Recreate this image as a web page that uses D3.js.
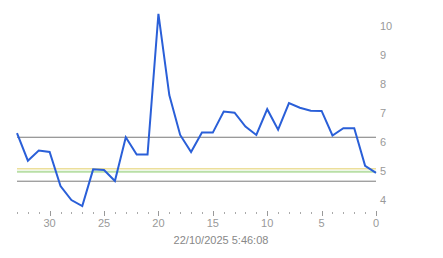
<!DOCTYPE html>
<html><head><meta charset="utf-8">
<script src="https://cdn.jsdelivr.net/npm/d3@7"></script>
<style>body{margin:0;background:#fff}svg{display:block}text{font-family:"Liberation Sans",Arial,sans-serif}</style>
</head><body>
<script>
const xs = [33,32,31,30,29,28,27,26,25,24,23,22,21,20,19,18,17,16,15,14,13,12,11,10,9,8,7,6,5,4,3,2,1,0];
const values = [6.31,5.36,5.71,5.66,4.48,4.0,3.79,5.06,5.04,4.66,6.17,5.57,5.57,10.44,7.63,6.25,5.66,6.33,6.33,7.06,7.02,6.54,6.25,7.14,6.43,7.35,7.19,7.09,7.08,6.23,6.48,6.48,5.18,4.94];
const refLines = [
  {v:6.17, c:"#7a7a7a", w:1},
  {v:5.08, c:"#ecdf9a", w:1.5},
  {v:4.98, c:"#b9dfa6", w:2},
  {v:4.65, c:"#7a7a7a", w:1}
];
const yTicks = [4,5,6,7,8,9,10];
const xMajor = [30,25,20,15,10,5,0];
const dateLabel = "22/10/2025 5:46:08";

const W=443,H=258;
const svg=d3.select("body").append("svg").attr("width",W).attr("height",H);
const x=d3.scaleLinear().domain([33,0]).range([17,376]);
const y=d3.scaleLinear().domain([4,10]).range([200,26.5]);

svg.selectAll("line.ref").data(refLines).enter().append("line")
  .attr("x1",x(33)).attr("x2",x(0)).attr("y1",d=>y(d.v)).attr("y2",d=>y(d.v))
  .attr("stroke",d=>d.c).attr("stroke-width",d=>d.w);

const minor=d3.range(0,34).filter(d=>!xMajor.includes(d));
svg.selectAll("line.minor").data(minor).enter().append("line")
  .attr("x1",d=>Math.round(x(d))+0.5).attr("x2",d=>Math.round(x(d))+0.5)
  .attr("y1",212).attr("y2",214).attr("stroke","#aaa");
svg.selectAll("line.major").data(xMajor).enter().append("line")
  .attr("x1",d=>Math.round(x(d))+0.5).attr("x2",d=>Math.round(x(d))+0.5)
  .attr("y1",211).attr("y2",216).attr("stroke","#999");
svg.selectAll("text.xt").data(xMajor).enter().append("text")
  .attr("x",d=>x(d)).attr("y",227).attr("text-anchor","middle")
  .attr("font-size",11).attr("fill","#999").text(d=>d);

svg.selectAll("text.yt").data(yTicks).enter().append("text")
  .attr("x",380).attr("y",d=>y(d)).attr("dy","0.35em")
  .attr("font-size",11).attr("fill","#999").text(d=>d);

svg.append("text").attr("x",221).attr("y",244).attr("text-anchor","middle")
  .attr("font-size",11).attr("fill","#888").text(dateLabel);

const line=d3.line().x((d,i)=>x(xs[i])).y(d=>y(d));
svg.append("path").datum(values).attr("d",line).attr("fill","none")
  .attr("stroke","#2a5fd8").attr("stroke-width",2).attr("stroke-linejoin","miter");
</script>
</body></html>
